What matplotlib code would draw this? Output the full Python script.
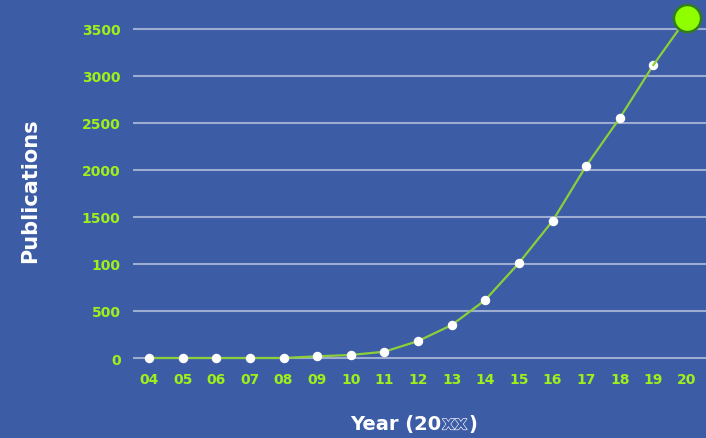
import matplotlib
matplotlib.use("Agg")
import matplotlib.pyplot as plt
import matplotlib.patheffects as pe

years = ["04", "05", "06", "07", "08", "09", "10", "11", "12", "13", "14", "15", "16", "17", "18", "19", "20"]
publications = [0, 0, 0, 0, 0, 18, 32, 67, 180, 350, 617, 1010, 1457, 2043, 2553, 3117, 3618]
ytick_values = [0, 500, 1000, 1500, 2000, 2500, 3000, 3500]
ytick_labels = ["0", "500", "100", "1500", "2000", "2500", "3000", "3500"]

BG = "#3c5ca6"
GREEN = "#9ef01a"
LINE = "#8ccf3a"

fig = plt.figure(figsize=(7.06, 4.39), dpi=100, facecolor=BG)
ax = fig.add_axes([133 / 706, 0.1651, 1 - 133 / 706, 0.8137])
ax.set_facecolor(BG)

x = list(range(4, 4 + len(years)))
ax.set_xlim(3.524, 20.565)
ax.set_ylim(-80, 3720)

for v in ytick_values:
    ax.axhline(v, color="white", alpha=0.5, lw=1.5, zorder=1)

ax.plot(x[:-1], publications[:-1], color=LINE, lw=1.6, marker="o", ms=5.8,
        mfc="white", mec="white", zorder=3, clip_on=False)
ax.plot(x[-2:], publications[-2:], color=LINE, lw=1.6, zorder=3, clip_on=False)
ax.plot([x[-1]], [publications[-1]], marker="o", ms=19.5, mfc="#8fff00",
        mec="#2f7d1f", mew=1.8, zorder=4, clip_on=False)

ax.set_xticks(x)
ax.set_xticklabels(years)
ax.set_yticks(ytick_values)
ax.set_yticklabels(ytick_labels)
ax.tick_params(axis="both", length=0, colors=GREEN, labelsize=10)
ax.tick_params(axis="y", pad=9)
ax.tick_params(axis="x", pad=5)
for lab in ax.get_xticklabels() + ax.get_yticklabels():
    lab.set_fontweight("bold")
    lab.set_color(GREEN)

for s in ax.spines.values():
    s.set_visible(False)

fig.text(30 / 706, 1 - 191 / 439, "Publications", rotation=90, color="white",
         fontsize=15, fontweight="bold", ha="center", va="center")

t1 = fig.text(350 / 706, 1 - 425 / 439, "Year (20", color="white", fontsize=14,
              fontweight="bold", ha="left", va="center")
t2 = fig.text(0, 0, "xx", color=BG, fontsize=14, fontweight="bold",
              path_effects=[pe.withStroke(linewidth=0.9, foreground="white")])
fig.canvas.draw()
renderer = fig.canvas.get_renderer()
bb1 = t1.get_window_extent(renderer)
inv = fig.transFigure.inverted()
p = inv.transform((bb1.x1 + 1, bb1.y0))
t2.set_position(p)
t2.set_va("bottom")
fig.canvas.draw()
bb2 = t2.get_window_extent(renderer)
p2 = inv.transform((bb2.x1 + 1, bb1.y0))
fig.text(p2[0], p2[1], ")", color="white", fontsize=14, fontweight="bold",
         va="bottom")

fig.savefig("out.png", dpi=100, facecolor=BG)
